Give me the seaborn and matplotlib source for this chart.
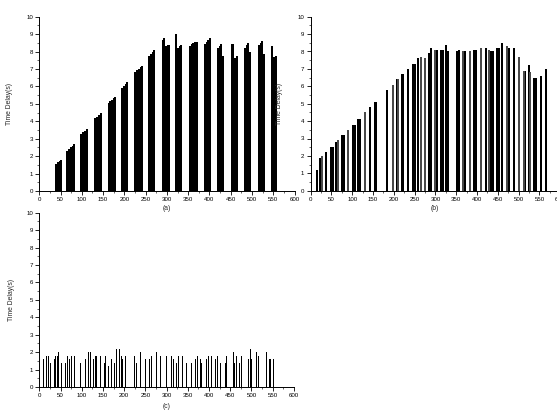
import numpy as np
import pandas as pd
import seaborn as sns
import matplotlib
matplotlib.use("Agg")
import matplotlib.pyplot as plt
from matplotlib.ticker import MultipleLocator

# ---------------- data ----------------
# panel (a): sample index vs time delay
a_x = [40, 44, 48, 52,
       66, 70, 74, 78, 82,
       99, 103, 107, 111,
       132, 136, 140, 144,
       163, 167, 171, 175, 179,
       195, 199, 203, 207,
       226, 230, 234, 238, 242,
       258, 262, 266, 270,
       290, 294, 298, 302, 306,
       322,
       326, 330, 334,
       354, 358, 362, 366, 370,
       389, 393, 397, 401,
       420, 424, 428, 432,
       452, 456, 460, 464,
       483, 487, 491, 495,
       516, 520, 524, 528,
       548, 552, 556]
a_y = [1.57, 1.65, 1.72, 1.80,
       2.32, 2.42, 2.52, 2.61, 2.70,
       3.27, 3.36, 3.45, 3.55,
       4.17, 4.27, 4.38, 4.48,
       5.05, 5.14, 5.23, 5.31, 5.40,
       5.92, 6.04, 6.16, 6.27,
       6.82, 6.92, 7.02, 7.12, 7.20,
       7.77, 7.88, 7.98, 8.08,
       8.68, 8.78, 8.30, 8.35, 8.40,
       9.00,
       8.20, 8.30, 8.40,
       8.33, 8.42, 8.50, 8.57, 8.57,
       8.45, 8.57, 8.68, 8.80,
       8.22, 8.33, 8.45, 7.75,
       8.42, 8.42, 7.62, 7.72,
       8.22, 8.35, 8.50, 7.95,
       8.38, 8.47, 8.58, 7.85,
       8.30, 7.68, 7.72]

# panel (b)
b_x = [14, 22, 26, 36, 49, 53, 61, 65, 76, 81, 90, 101, 106, 113, 119, 131, 142,
       154, 158, 184, 197, 207, 211, 219, 223, 234, 246, 250, 259, 265, 274, 285,
       289, 299, 303, 313, 318, 326, 331, 353, 357, 366, 371, 383, 393, 398, 410,
       421, 428, 434, 438, 448, 452, 459, 471, 477, 488, 501, 512, 516, 525, 528,
       538, 543, 555, 566]
b_y = [1.2, 1.9, 2.0, 2.2, 2.5, 2.5, 2.8, 2.9, 3.2, 3.2, 3.5, 3.8, 3.8, 4.1, 4.1, 4.5, 4.8,
       5.1, 5.1, 5.8, 6.1, 6.4, 6.4, 6.7, 6.7, 7.0, 7.3, 7.3, 7.6, 7.7, 7.6, 7.9,
       8.2, 8.1, 8.1, 8.1, 8.1, 8.4, 8.0, 8.0, 8.1, 8.0, 8.0, 8.0, 8.1, 8.1, 8.2,
       8.2, 8.1, 8.0, 8.0, 8.2, 8.2, 8.5, 8.3, 8.2, 8.2, 7.7, 6.9, 6.9, 7.2, 6.8,
       6.5, 6.5, 6.6, 7.0]
b_tone = ['k', 'k', 'g', 'k', 'k', 'k', 'k', 'g', 'k', 'k', 'g', 'k', 'k', 'k', 'k', 'g', 'k',
          'k', 'k', 'k', 'g', 'k', 'g', 'k', 'k', 'k', 'k', 'k', 'k', 'g', 'g', 'k',
          'k', 'g', 'k', 'k', 'k', 'k', 'k', 'k', 'k', 'g', 'k', 'g', 'k', 'k', 'g',
          'k', 'g', 'k', 'k', 'k', 'k', 'k', 'g', 'k', 'k', 'g', 'g', 'k', 'k', 'g',
          'k', 'k', 'k', 'k']

# panel (c)
c_x = [9, 16, 21, 27, 35, 39, 42, 46, 52, 62, 66, 71, 75, 82, 97, 108, 116, 121, 127,
       133, 136, 145, 153, 156, 163, 171, 177, 182, 189, 194, 197, 204, 224, 229,
       238, 250, 260, 264, 277, 286, 299, 311, 317, 323, 328, 337, 348, 358, 368,
       372, 379, 383, 394, 400, 405, 415, 419, 428, 439, 442, 457, 460, 464, 473,
       476, 494, 498, 501, 511, 517, 536, 542, 546, 553]
c_y = [1.6, 1.8, 1.8, 1.4, 1.6, 1.8, 1.8, 2.0, 1.4, 1.4, 1.8, 1.6, 1.8, 1.8, 1.4, 1.6, 2.0, 2.0, 1.6,
       1.8, 1.8, 1.8, 1.4, 1.8, 1.2, 1.6, 1.4, 2.2, 2.2, 1.8, 1.6, 1.8, 1.8, 1.4,
       2.0, 1.6, 1.6, 1.8, 2.0, 1.8, 1.8, 1.8, 1.6, 1.4, 1.8, 1.8, 1.4, 1.4, 1.6,
       1.8, 1.6, 1.4, 1.6, 1.8, 1.8, 1.6, 1.8, 1.4, 1.4, 1.8, 2.0, 1.4, 1.8, 1.4,
       1.8, 1.6, 2.2, 1.6, 2.0, 1.8, 2.0, 1.6, 1.6, 1.6]

x_ticks = list(range(0, 601, 50))
y_ticks = list(range(0, 11))
panel_labels = ["(a)", "(b)", "(c)"]
y_label = "Time Delay(s)"

# ---------------- style ----------------
sns.set_style("ticks")
plt.rcParams['font.family'] = ['Liberation Sans', 'DejaVu Sans']

W, H = 557, 412
fig = plt.figure(figsize=(W / 100, H / 100), dpi=100)


def px_axes(x0, x600, y0, y10):
    return fig.add_axes([x0 / W, 1 - y0 / H, (x600 - x0) / W, (y0 - y10) / H])


ax_a = px_axes(39.3, 294.6, 191.0, 16.7)
ax_b = px_axes(310.7, 560.2, 190.7, 16.7)
ax_c = px_axes(39.3, 293.8, 387.0, 212.7)

palette = {'k': '#000000', 'g': '#4a4a4a'}


def draw(ax, x, y, tone, bar_units):
    df = pd.DataFrame({'x': x, 'y': y, 'tone': tone})
    spacing = np.diff(np.unique(df['x'])).min()
    sns.barplot(data=df, x='x', y='y', hue='tone', palette=palette,
                native_scale=True, width=bar_units / spacing, errorbar=None,
                dodge=False, legend=False, linewidth=0, saturation=1, ax=ax)


draw(ax_a, a_x, a_y, ['k'] * len(a_x), 4.6)
draw(ax_b, b_x, b_y, b_tone, 4.8)
draw(ax_c, c_x, c_y, ['k'] * len(c_x), 2.4)

for ax in (ax_a, ax_b, ax_c):
    ax.set_xlim(0, 600)
    ax.set_ylim(0, 10)
    ax.set_xticks(x_ticks)
    ax.set_xticklabels([str(t) for t in x_ticks])
    ax.set_yticks(y_ticks)
    ax.set_yticklabels([str(t) for t in y_ticks])
    ax.xaxis.set_minor_locator(MultipleLocator(25))
    ax.yaxis.set_minor_locator(MultipleLocator(0.5))
    ax.tick_params(which='major', direction='out', length=3, width=0.6,
                   labelsize=4.4, pad=1.5, colors='black')
    ax.tick_params(which='minor', direction='out', length=1.6, width=0.5)
    for s in ('top', 'right'):
        ax.spines[s].set_visible(False)
    for s in ('left', 'bottom'):
        ax.spines[s].set_linewidth(0.7)
        ax.spines[s].set_color('black')
    ax.set_xlabel('')
    ax.set_ylabel(y_label, fontsize=4.9)

ax_a.yaxis.set_label_coords(-26 / 255.3, 0.5)
ax_b.yaxis.set_label_coords(-28 / 249.5, 0.5)
ax_c.yaxis.set_label_coords(-24 / 254.5, 0.5)

fig.text(167 / W, 1 - 208 / H, panel_labels[0], ha='center', va='center', fontsize=4.9)
fig.text(435 / W, 1 - 208 / H, panel_labels[1], ha='center', va='center', fontsize=4.9)
fig.text(167 / W, 1 - 407 / H, panel_labels[2], ha='center', va='center', fontsize=4.9)

fig.savefig("out.png", dpi=100)
